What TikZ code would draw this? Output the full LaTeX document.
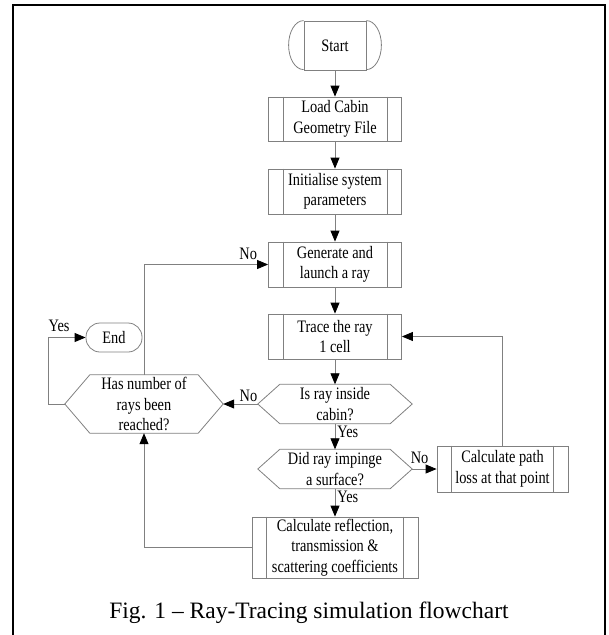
\documentclass[tikz,border=0pt]{standalone}
\usepackage{fontspec}
\setmainfont{Liberation Serif}
\newfontfamily\boxfont{Liberation Serif}[FakeStretch=0.82]
\usetikzlibrary{arrows.meta}
\definecolor{linegray}{RGB}{128,128,128}
\newcommand{\boxsize}{\boxfont\fontsize{17.5}{20.5}\selectfont}

\begin{document}
\begin{tikzpicture}[x=1pt,y=-1pt,>={Triangle[length=11pt,width=9pt,color=black]}]
 \tikzstyle{flow} = [draw=linegray,line width=0.8pt,->]
 \tikzstyle{lbl} = [inner sep=2pt,font=\boxsize]
 \tikzstyle{procbox} = [draw=linegray,line width=0.8pt,inner sep=0pt,align=center,font=\boxsize,
   append after command={\pgfextra{\draw[draw=linegray,line width=0.8pt]
     ([xshift=15pt]\tikzlastnode.north west) -- ([xshift=15pt]\tikzlastnode.south west)
     ([xshift=-15pt]\tikzlastnode.north east) -- ([xshift=-15pt]\tikzlastnode.south east);}}]
 \tikzstyle{decision} = [inner sep=0pt,align=center,font=\boxsize,
   append after command={\pgfextra{\draw[draw=linegray,line width=0.8pt]
     (\tikzlastnode.west) -- ([xshift=#1]\tikzlastnode.north west) -- ([xshift=-#1]\tikzlastnode.north east)
     -- (\tikzlastnode.east) -- ([xshift=-#1]\tikzlastnode.south east) -- ([xshift=#1]\tikzlastnode.south west) -- cycle;}}]
 \tikzstyle{terminal} = [draw=linegray,line width=0.8pt,inner sep=0pt,font=\boxsize,
   append after command={\pgfextra{\draw[draw=linegray,line width=0.8pt]
     (\tikzlastnode.north west) arc[start angle=90,end angle=270,x radius=15pt,y radius=24.5pt]
     (\tikzlastnode.north east) arc[start angle=90,end angle=-90,x radius=15pt,y radius=24.5pt];}}]

 \useasboundingbox (0,0) rectangle (609,635);

% Frame (cut at the bottom)
 \draw[line width=2pt] (13,635) -- (13,5) -- (605,5) -- (605,635);

% Main column
 \node[terminal,minimum width=62pt,minimum height=49pt] (start) at (335,45.5) {Start};
 \node[procbox,minimum width=133pt,minimum height=44pt] (load) at (335,119) {Load Cabin\\Geometry File};
 \node[procbox,minimum width=133pt,minimum height=45pt] (init) at (335,191.5) {Initialise system\\parameters};
 \node[procbox,minimum width=133pt,minimum height=45pt] (gen) at (335,264.5) {Generate and\\launch a ray};
 \node[procbox,minimum width=133pt,minimum height=45pt] (trace) at (335,336.5) {Trace the ray\\1 cell};
 \node[decision=22pt,minimum width=154pt,minimum height=39pt] (inside) at (335,404) {Is ray inside\\cabin?};
 \node[decision=22pt,minimum width=154pt,minimum height=39pt] (impinge) at (335,469) {Did ray impinge\\a surface?};
 \node[procbox,minimum width=166pt,minimum height=61pt] (reflect) at (335,547.5) {Calculate reflection,\\transmission \&\\scattering coefficients};

% Side nodes
 \node[procbox,minimum width=131pt,minimum height=46pt] (pathloss) at (502.5,469) {Calculate path\\loss at that point};
 \node[decision=25pt,minimum width=158pt,minimum height=58pt] (raysdone) at (144,404) {Has number of\\rays been\\reached?};
 \node[draw=linegray,line width=0.8pt,rounded corners=14pt,minimum width=56pt,minimum height=29pt,inner sep=0pt,font=\boxsize] (finish) at (114,337.5) {End};

% Connectors
 \draw[flow] (start) -- (load);
 \draw[flow] (load) -- (init);
 \draw[flow] (init) -- (gen);
 \draw[flow] (gen) -- (trace);
 \draw[flow] (trace) -- (inside);
 \draw[flow] (inside.west) -- node[lbl,pos=0.27,above] {No} (raysdone.east);
 \draw[flow] (inside.south) -- node[lbl,pos=0.3,anchor=west] {Yes} (impinge.north);
 \draw[flow] (impinge.east) -- node[lbl,pos=0.3,above,inner sep=5pt] {No} (pathloss.west);
 \draw[flow] (impinge.south) -- node[lbl,pos=0.3,anchor=west] {Yes} (reflect.north);
 \draw[flow] (pathloss.north) |- (trace.east);
 \draw[flow] (reflect.west) -| (raysdone.south);
 \draw[flow] (raysdone.north) |- node[lbl,pos=0.92,above,inner sep=4pt] {No} (gen.west);
 \draw[flow] (raysdone.west) -- ++(-16,0) |- node[lbl,pos=0.64,above,inner sep=5pt] {Yes} (finish.west);

% Caption
 \node[anchor=base,font=\fontsize{23.5}{28}\selectfont] (caption) at (309,618) {Fig. 1 \textendash{} Ray-Tracing simulation flowchart};

\end{tikzpicture}
\end{document}
